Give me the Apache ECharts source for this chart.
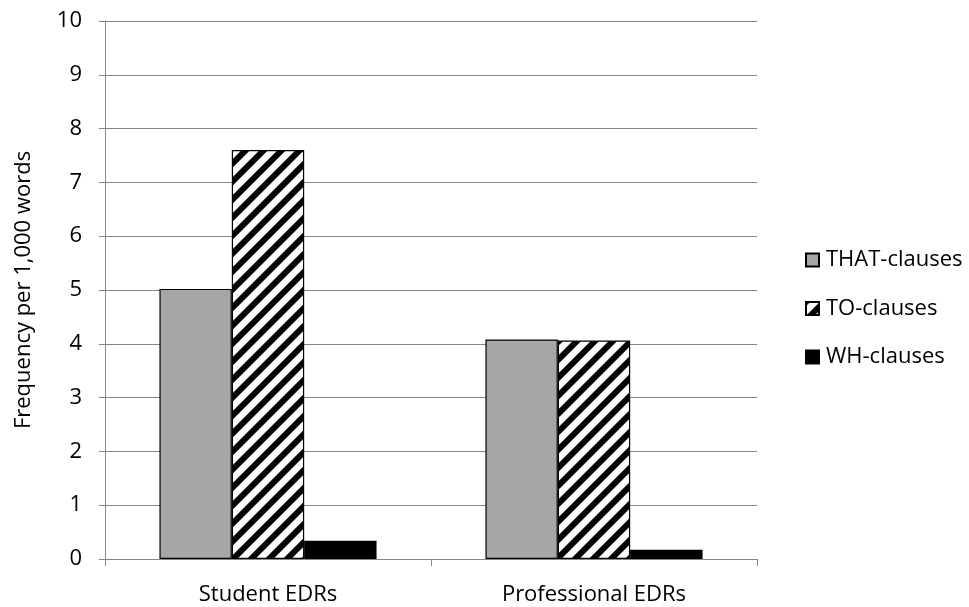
<!DOCTYPE html>
<html>
<head>
<meta charset="utf-8">
<script src="https://cdn.jsdelivr.net/npm/echarts@6/dist/echarts.min.js"></script>
<style>
  html, body { margin: 0; padding: 0; background: #fff; }
  #chart { width: 969px; height: 607px; }
</style>
</head>
<body>
<div id="chart"></div>
<script>
const categories = ['Student EDRs', 'Professional EDRs'];
const seriesNames = ['THAT-clauses', 'TO-clauses', 'WH-clauses'];
const thatClauses = [5.02, 4.08];
const toClauses = [7.6, 4.06];
const whClauses = [0.34, 0.17];
const yTicks = [0, 1, 2, 3, 4, 5, 6, 7, 8, 9, 10];

// Diagonal "/" hatch tile used for the TO-clauses bars
function makeHatch() {
  const s = 18;
  const c = document.createElement('canvas');
  c.width = s; c.height = s;
  const g = c.getContext('2d');
  g.fillStyle = '#ffffff';
  g.fillRect(0, 0, s, s);
  g.strokeStyle = '#000000';
  g.lineWidth = 6;
  g.lineCap = 'square';
  [[0, s, s, 0], [-s / 2, s / 2, s / 2, -s / 2], [s / 2, s * 1.5, s * 1.5, s / 2]].forEach(function (l) {
    g.beginPath();
    g.moveTo(l[0], l[1]);
    g.lineTo(l[2], l[3]);
    g.stroke();
  });
  return c;
}

const font = 'Open Sans';
const fontSize = 22;
const chart = echarts.init(document.getElementById('chart'), null, { renderer: 'canvas' });

const fills = ['#a6a6a6', { image: makeHatch(), repeat: 'repeat' }, '#000000'];
const values = [thatClauses, toClauses, whClauses];

chart.setOption({
  animation: false,
  backgroundColor: '#ffffff',
  grid: { left: 105, right: 212, top: 21, bottom: 48, containLabel: false },
  legend: {
    orient: 'vertical',
    left: 800,
    top: 244,
    icon: 'rect',
    itemWidth: 13,
    itemHeight: 13,
    itemGap: 26.5,
    textStyle: { fontFamily: font, fontSize: fontSize, color: '#000', padding: [0, 0, 0, 2] },
    data: seriesNames
  },
  xAxis: {
    type: 'category',
    data: categories,
    axisLine: { lineStyle: { color: '#868686', width: 1 } },
    axisTick: { show: true, length: 7, lineStyle: { color: '#868686' } },
    axisLabel: { fontFamily: font, fontSize: fontSize, color: '#000', margin: 25 }
  },
  yAxis: {
    type: 'value',
    min: yTicks[0],
    max: yTicks[yTicks.length - 1],
    interval: 1,
    name: 'Frequency per 1,000 words',
    nameLocation: 'middle',
    nameGap: 70,
    nameTextStyle: { fontFamily: font, fontSize: fontSize, color: '#000' },
    axisLine: { show: true, lineStyle: { color: '#868686', width: 1 } },
    axisTick: { show: true, length: 6, lineStyle: { color: '#868686' } },
    axisLabel: { fontFamily: font, fontSize: fontSize, color: '#000', margin: 23 },
    splitLine: { show: true, lineStyle: { color: '#868686', width: 1 } }
  },
  series: seriesNames.map(function (name, i) {
    return {
      name: name,
      type: 'bar',
      data: values[i],
      barGap: '0%',
      barCategoryGap: '33.4%',
      itemStyle: { color: fills[i], borderColor: '#000', borderWidth: 1.2 }
    };
  })
});
</script>
</body>
</html>
